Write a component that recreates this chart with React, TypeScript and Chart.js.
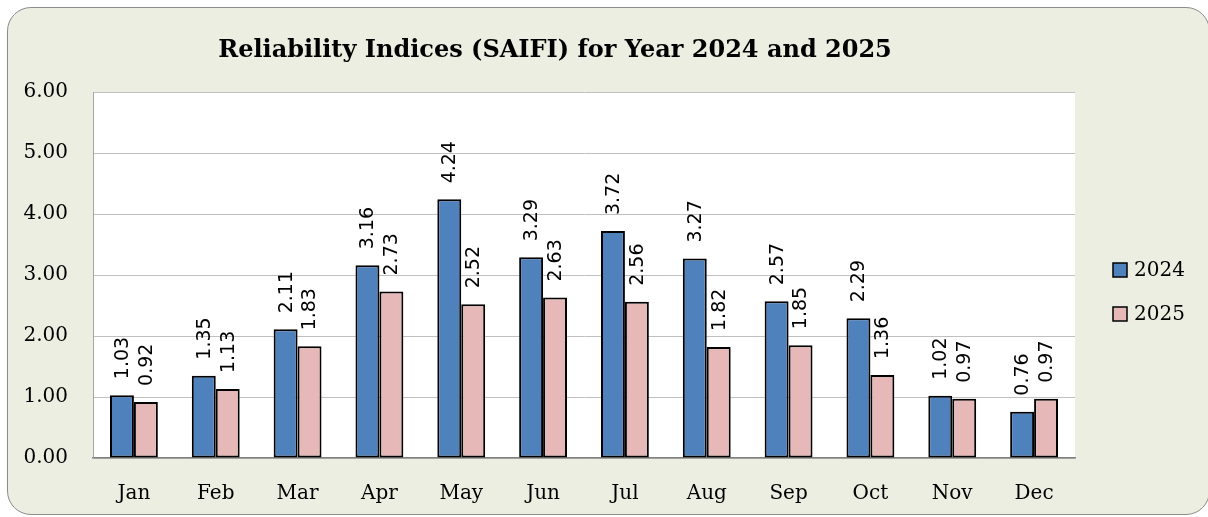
import React, { useEffect, useRef } from "react";
import { Chart, registerables } from "chart.js";

Chart.register(...registerables);

const months = ["Jan", "Feb", "Mar", "Apr", "May", "Jun", "Jul", "Aug", "Sep", "Oct", "Nov", "Dec"];
const saifi2024 = [1.03, 1.35, 2.11, 3.16, 4.24, 3.29, 3.72, 3.27, 2.57, 2.29, 1.02, 0.76];
const saifi2025 = [0.92, 1.13, 1.83, 2.73, 2.52, 2.63, 2.56, 1.82, 1.85, 1.36, 0.97, 0.97];
const seriesLabels = ["2024", "2025"];
const titleText = "Reliability Indices (SAIFI) for Year 2024 and 2025";

const SERIF = "'DejaVu Serif', serif";
const SANS = "'DejaVu Sans', sans-serif";

const plotBg = {
  id: "plotBg",
  beforeDraw(chart: any) {
    const { ctx, chartArea } = chart;
    ctx.save();
    ctx.fillStyle = "#ffffff";
    ctx.fillRect(chartArea.left, chartArea.top, chartArea.right - chartArea.left, chartArea.bottom - chartArea.top);
    ctx.restore();
  },
};

const titlePlugin = {
  id: "titleDraw",
  afterDraw(chart: any) {
    const { ctx } = chart;
    ctx.save();
    ctx.font = `bold 24px ${SERIF}`;
    ctx.fillStyle = "#000";
    ctx.textAlign = "center";
    ctx.textBaseline = "alphabetic";
    ctx.fillText(titleText, 555, 57);
    ctx.restore();
  },
};

const valueLabels = {
  id: "valueLabels",
  afterDatasetsDraw(chart: any) {
    const { ctx } = chart;
    ctx.save();
    ctx.font = `19px ${SANS}`;
    ctx.fillStyle = "#000";
    ctx.textAlign = "left";
    ctx.textBaseline = "middle";
    chart.data.datasets.forEach((ds: any, i: number) => {
      const meta = chart.getDatasetMeta(i);
      meta.data.forEach((bar: any, j: number) => {
        const v = ds.data[j] as number;
        ctx.save();
        ctx.translate(bar.x + 1, bar.y - 16);
        ctx.rotate(-Math.PI / 2);
        ctx.fillText(v.toFixed(2), 0, 0);
        ctx.restore();
      });
    });
    ctx.restore();
  },
};

const legendPlugin = {
  id: "legendDraw",
  afterDraw(chart: any) {
    const { ctx } = chart;
    ctx.save();
    ctx.font = `20px ${SERIF}`;
    ctx.textAlign = "left";
    ctx.textBaseline = "middle";
    chart.data.datasets.forEach((ds: any, i: number) => {
      const cy = 270 + i * 44;
      ctx.fillStyle = ds.backgroundColor;
      ctx.fillRect(1113, cy - 7, 14, 14);
      ctx.strokeStyle = "#000";
      ctx.lineWidth = 1.5;
      ctx.strokeRect(1113, cy - 7, 14, 14);
      ctx.fillStyle = "#000";
      ctx.fillText(ds.label, 1134, cy + 1);
    });
    ctx.restore();
  },
};

export default function App() {
  const ref = useRef<HTMLCanvasElement | null>(null);

  useEffect(() => {
    if (!ref.current) return;
    const chart = new Chart(ref.current, {
      type: "bar",
      data: {
        labels: months,
        datasets: [
          {
            label: seriesLabels[0],
            data: saifi2024,
            backgroundColor: "#4F81BD",
            borderColor: "#000000",
            borderWidth: 2,
            borderSkipped: false,
          },
          {
            label: seriesLabels[1],
            data: saifi2025,
            backgroundColor: "#E6B9B8",
            borderColor: "#000000",
            borderWidth: 2,
            borderSkipped: false,
          },
        ],
      },
      options: {
        responsive: false,
        animation: false,
        devicePixelRatio: 1,
        layout: { padding: { top: 92, right: 133, left: 0, bottom: 0 } },
        datasets: { bar: { categoryPercentage: 0.585, barPercentage: 1 } },
        plugins: {
          legend: { display: false },
          title: { display: false },
          tooltip: { enabled: false },
        },
        scales: {
          x: {
            grid: { display: false, drawTicks: false },
            border: { display: true, color: "#808080", width: 1.5 },
            ticks: { font: { family: SERIF, size: 20 }, color: "#000", padding: 24 },
            afterFit(scale: any) {
              scale.height = 59;
            },
          },
          y: {
            min: 0,
            max: 6,
            grid: { color: "#C0C0C0", lineWidth: 1, drawTicks: false },
            border: { display: true, color: "#A6A6A6", width: 1 },
            ticks: {
              stepSize: 1,
              font: { family: SERIF, size: 20 },
              color: "#000",
              padding: 25,
              callback: (v: any) => Number(v).toFixed(2),
            },
            afterFit(scale: any) {
              scale.width = 93;
            },
          },
        },
      },
      plugins: [plotBg, valueLabels, titlePlugin, legendPlugin],
    });
    return () => chart.destroy();
  }, []);

  return (
    <div style={{ position: "absolute", left: 0, top: 0, width: 1208, height: 517, overflow: "hidden" }}>
      <div
        style={{
          position: "absolute",
          left: 7,
          top: 7,
          width: 1203,
          height: 508,
          boxSizing: "border-box",
          border: "1.5px solid #8C8C8C",
          borderRadius: 24,
          background: "#EBEEE0",
        }}
      />
      <canvas ref={ref} width={1208} height={517} style={{ position: "absolute", left: 0, top: 0, width: 1208, height: 517 }} />
    </div>
  );
}
